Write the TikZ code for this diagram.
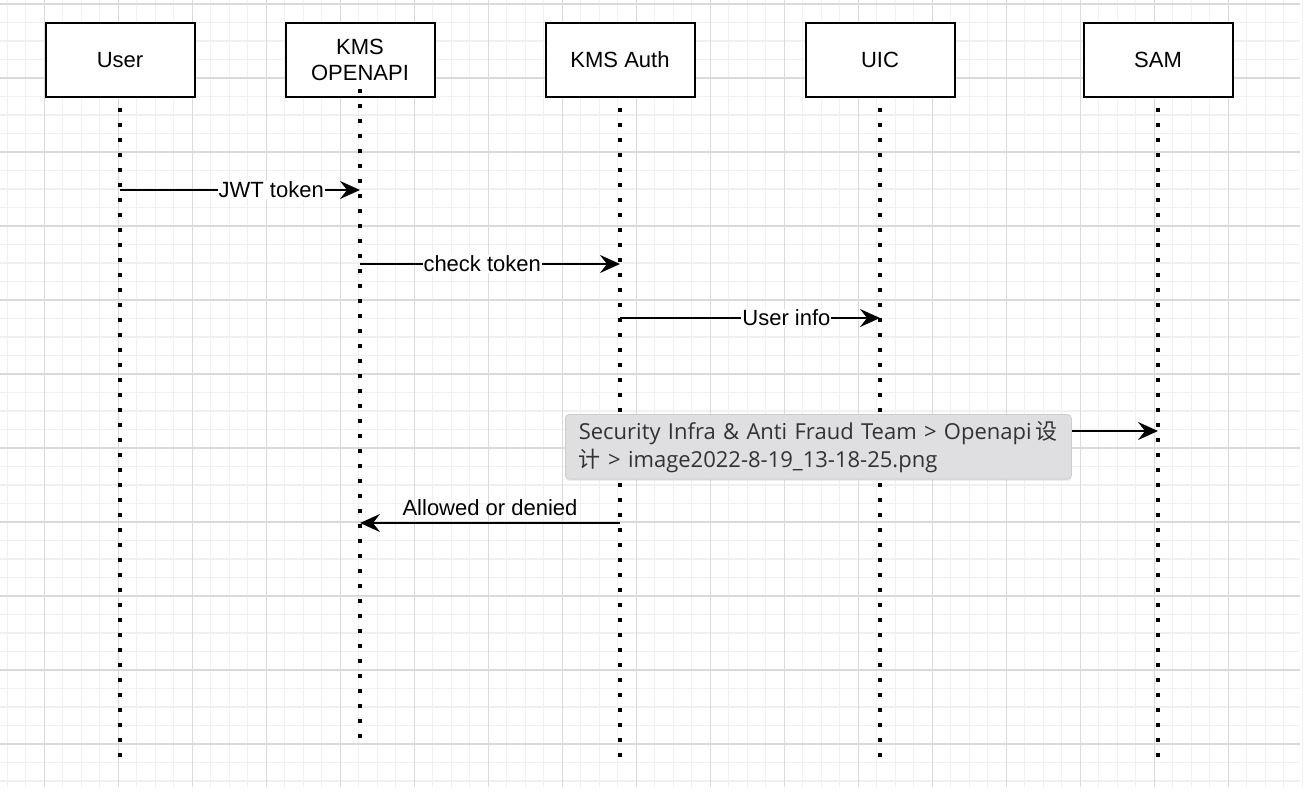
\documentclass[tikz,border=0pt]{standalone}
\usepackage{fontspec}
\setmainfont{Liberation Sans}
\newfontfamily\tipfont{Open Sans}
\newfontfamily\cjk{Noto Sans CJK SC}
\usepackage{tikz}
\usetikzlibrary{arrows.meta,positioning,shadows}
\tikzset{every node/.append style={align=center}}
\definecolor{minorline}{RGB}{240, 240, 240}
\definecolor{majorline}{RGB}{218, 218, 218}
\definecolor{tipfill}{RGB}{223, 223, 225}
\definecolor{tipborder}{RGB}{205, 205, 208}
\definecolor{tiptext}{RGB}{50, 50, 52}

\begin{document}
\begin{tikzpicture}[
    x=0.5pt, y=-0.5pt,
    actor/.style={draw, line width=1pt, fill=white, minimum width=74.5pt, minimum height=37pt, inner sep=0pt, font=\fontsize{11}{13}\selectfont},
    lifeline/.style={line width=2pt, dash pattern=on 2pt off 5.5pt},
    msg/.style={line width=1pt, -{Stealth[length=10pt,width=9pt,inset=3.5pt]}},
    msglabel/.style={fill=white, inner sep=0.5pt, font=\fontsize{11}{13}\selectfont},
    tooltip/.style={draw=tipborder, line width=0.4pt, fill=tipfill, rounded corners=2pt, drop shadow={opacity=0.12, shadow xshift=0pt, shadow yshift=-1pt}, minimum width=253pt, minimum height=32pt, inner xsep=6.7pt, text width=239.6pt, align=left, text=tiptext, font=\tipfont\fontsize{11}{14}\selectfont}
]
    % Background and grid
    \useasboundingbox (0,0) rectangle (1306,792);
    \fill[white] (0,0) rectangle (1306,792);
    \foreach \k in {0,...,72}
        \draw[minorline, line width=0.6pt] ({-29.7+18.5*\k},0) -- ++(0,787);
    \foreach \k in {0,...,42}
        \draw[minorline, line width=0.6pt] (0,{4+18.5*\k}) -- ++(1300,0);
    \foreach \k in {0,...,17}
        \draw[majorline, line width=0.6pt] ({-29.7+74*\k},0) -- ++(0,787);
    \foreach \k in {0,...,10}
        \draw[majorline, line width=0.6pt] (0,{4+74*\k}) -- ++(1300,0);

    % Participants
    \node[actor] (user) at (120, 60) {User};
    \node[actor] (openapi) at (360, 60) {KMS\\OPENAPI};
    \node[actor] (auth) at (620, 60) {KMS Auth};
    \node[actor] (uic) at (880, 60) {UIC};
    \node[actor] (sam) at (1158, 60) {SAM};

    % Lifelines
    \coordinate (top) at (0, 108);
    \coordinate (bottom) at (0, 763);
    \draw[lifeline] (user |- top) -- (user |- bottom);
    \draw[lifeline] (openapi.center |- 0,89) -- (openapi |- 0,744);
    \draw[lifeline] (auth |- top) -- (auth |- bottom);
    \draw[lifeline] (uic |- top) -- (uic |- bottom);
    \draw[lifeline] (sam |- top) -- (sam |- bottom);

    % Messages
    \coordinate (m1) at (0, 190);
    \coordinate (m2) at (0, 264);
    \coordinate (m3) at (0, 318);
    \coordinate (m4) at (0, 431);
    \coordinate (m5) at (0, 523);
    \draw[msg] (user |- m1) -- node[msglabel, pos=0.63] {JWT token} (openapi |- m1);
    \draw[msg] (openapi |- m2) -- node[msglabel, pos=0.47] {check token} (auth |- m2);
    \draw[msg] (auth |- m3) -- node[msglabel, pos=0.64] {User info} (uic |- m3);
    \draw[msg] (auth |- m4) -- (sam |- m4);
    \draw[msg] (auth |- m5) -- node[above=2pt, inner sep=1pt, font=\fontsize{11}{13}\selectfont] {Allowed or denied} (openapi |- m5);

    % Hover tooltip
    \node[tooltip, anchor=north west] (tip) at (565, 414) {Security Infra \& Anti Fraud Team > Openapi\,{\cjk 设}\\{\cjk 计} > image2022-8-19\_13-18-25.png};
\end{tikzpicture}
\end{document}
